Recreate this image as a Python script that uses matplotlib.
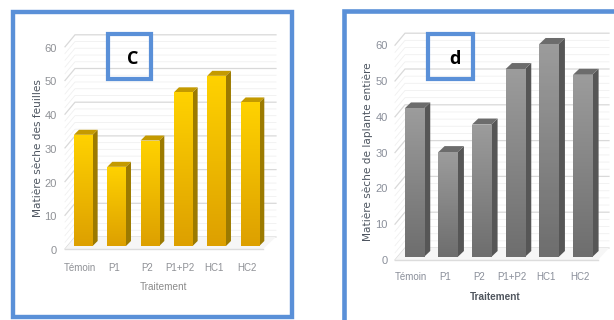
import matplotlib
matplotlib.use("Agg")
import matplotlib.pyplot as plt
import numpy as np
from matplotlib.patches import Rectangle, Polygon
from matplotlib.transforms import ScaledTranslation, IdentityTransform

W, H = 614, 320
DPI = 100

categories = ["Témoin", "P1", "P2", "P1+P2", "HC1", "HC2"]
feuilles = [33, 23.5, 31.3, 45.6, 50.5, 42.6]
plante_entiere = [41.5, 29.3, 37, 52.5, 59.5, 50.9]
y_ticks = [0, 10, 20, 30, 40, 50, 60]

FRAME = "#5A90D8"
LABEL_FONT = ["Liberation Sans"]

fig = plt.figure(figsize=(W / DPI, H / DPI), dpi=DPI, facecolor="white")


def px_box(x0, y0, x1, y1, lw_px, color=FRAME):
    """Outline rectangle given in top-left pixel coordinates."""
    fig.add_artist(Rectangle((x0, H - y1), x1 - x0, y1 - y0, fill=False,
                             edgecolor=color, linewidth=lw_px * 72 / DPI,
                             transform=IdentityTransform(), joinstyle="miter"))


def panel(values, box, c0, pitch, bar_w, base, scale, depth, wall, floor_left,
          tick_shift, floor_y, floor_right, ylabel, ylabel_pos, ylabel_size, xlabel_pos,
          xlabel_kw, top, bottom, side, cap, tick_color):
    l, t, r, b = box
    ax = fig.add_axes([l / W, 1 - b / H, (r - l) / W, (b - t) / H])
    ax.patch.set_alpha(0)
    for s in ax.spines.values():
        s.set_visible(False)

    dx, dy = depth[0] / pitch, depth[1] / scale
    wall_l = (wall[0] - c0) / pitch
    wall_r = (wall[1] - c0) / pitch
    wall_base = (base - wall[2]) / scale
    fl = (floor_left - c0) / pitch
    floor_drop = wall_base - (base - floor_y) / scale
    floor_r = (floor_right - c0) / pitch

    # Back wall and side wall gridlines; every fifth one is a major division
    for v in np.arange(0, 61, 2):
        major = v % 10 == 0
        col = "#d9d9d9" if major else "#f0f0f0"
        lw = 0.9 if major else 0.6
        y = wall_base + v
        ax.plot([fl, wall_l, wall_r], [y - floor_drop, y, y], color=col, lw=lw,
                zorder=1, clip_on=False, solid_joinstyle="miter")

    # Floor
    ax.add_patch(Polygon([(fl, wall_base - floor_drop), (wall_l, wall_base),
                          (wall_r, wall_base), (floor_r, wall_base - floor_drop)],
                         closed=True, facecolor="#f6f6f6", edgecolor="none",
                         zorder=1.5, clip_on=False))
    ax.plot([fl, floor_r], [wall_base - floor_drop] * 2, color="#dcdcdc", lw=1,
            zorder=1.6, clip_on=False)

    # Bars with a vertical colour ramp plus extruded side and cap faces
    half = bar_w / pitch / 2
    gradient = np.linspace(0, 1, 64)[:, None]
    cmap = matplotlib.colors.LinearSegmentedColormap.from_list("ramp", [bottom, top])
    bars = ax.bar(range(len(values)), values, width=2 * half, color=top, zorder=3)
    for i, (rect, v) in enumerate(zip(bars, values)):
        ax.add_patch(Polygon([(i + half, 0), (i + half + dx, dy), (i + half + dx, v + dy),
                              (i + half, v)], closed=True, facecolor=side,
                             edgecolor="none", zorder=3))
        ax.add_patch(Polygon([(i - half, v), (i - half + dx, v + dy), (i + half + dx, v + dy),
                              (i + half, v)], closed=True, facecolor=cap,
                             edgecolor="none", zorder=3))
        im = ax.imshow(gradient, extent=(i - half, i + half, 0, v), origin="lower",
                       cmap=cmap, aspect="auto", zorder=4)
        im.set_clip_path(rect)
    ax.set_xlim((l - c0) / pitch, (r - c0) / pitch)
    ax.set_ylim((base - b) / scale, (base - t) / scale)

    # Tick labels sit slightly off the front plane
    ax.set_xticks(range(len(categories)), categories)
    ax.set_yticks(y_ticks)
    ax.tick_params(length=0, pad=1, labelcolor=tick_color)
    for lab in ax.get_yticklabels():
        lab.set_fontfamily(LABEL_FONT)
        lab.set_fontsize(8)
        lab.set_transform(lab.get_transform() + ScaledTranslation(
            0, -tick_shift[1] / DPI, fig.dpi_scale_trans))
    for lab in ax.get_xticklabels():
        lab.set_fontfamily(LABEL_FONT)
        lab.set_fontsize(7)
        lab.set_transform(lab.get_transform() + ScaledTranslation(
            tick_shift[0] / DPI, 0, fig.dpi_scale_trans))

    fig.text(ylabel_pos[0] / W, 1 - ylabel_pos[1] / H, ylabel, rotation=90,
             ha="center", va="center", fontsize=ylabel_size, color="#4d5560",
             family="DejaVu Sans")
    fig.text(xlabel_pos[0] / W, 1 - xlabel_pos[1] / H, "Traitement",
             ha="center", va="center", family=LABEL_FONT, **xlabel_kw)
    return ax


# Panel c
px_box(13.2, 12.3, 291.5, 317, 4.4)
panel(feuilles, box=(58, 30, 285, 262), c0=83.3, pitch=33.33, bar_w=18.7, base=246,
      scale=3.37, depth=(5, 5), wall=(75, 276, 237), floor_left=65,
      tick_shift=(-3, 4), floor_y=249, floor_right=263,
      ylabel="Matière sèche des feuilles", ylabel_pos=(38, 148), ylabel_size=7.6,
      xlabel_pos=(163, 287), xlabel_kw=dict(fontsize=7.2, color="#8a8a8a"),
      top="#FFD200", bottom="#DDA000", side="#9C7A00", cap="#C49A00",
      tick_color="#8f9196")
px_box(107.5, 33.8, 151.2, 79, 4.2)
fig.text(133 / W, 1 - 59 / H, "C", ha="center", va="center", fontsize=13,
         fontweight="bold", family="Open Sans", color="black")

# Panel d
px_box(343.5, 10.8, 640, 345, 4.6)
panel(plante_entiere, box=(389, 28, 605, 271), c0=414.3, pitch=33.67, bar_w=19.3, base=257,
      scale=3.58, depth=(6.3, 6), wall=(405, 609, 248), floor_left=395,
      tick_shift=(-3, 3), floor_y=260, floor_right=598,
      ylabel="Matière sèche de laplante entière", ylabel_pos=(367.5, 152), ylabel_size=7.6,
      xlabel_pos=(495, 297), xlabel_kw=dict(fontsize=7.2, color="#50565e", fontweight="bold"),
      top="#9C9C9C", bottom="#6E6E6E", side="#565656", cap="#6C6C6C",
      tick_color="#8a8f9a")
px_box(428.4, 33.8, 472.6, 79, 4.2)
fig.text(454.7 / W, 1 - 59 / H, "d", ha="center", va="center", fontsize=13,
         fontweight="bold", family="Open Sans", color="black")

fig.savefig("out.png", dpi=DPI, facecolor="white")
